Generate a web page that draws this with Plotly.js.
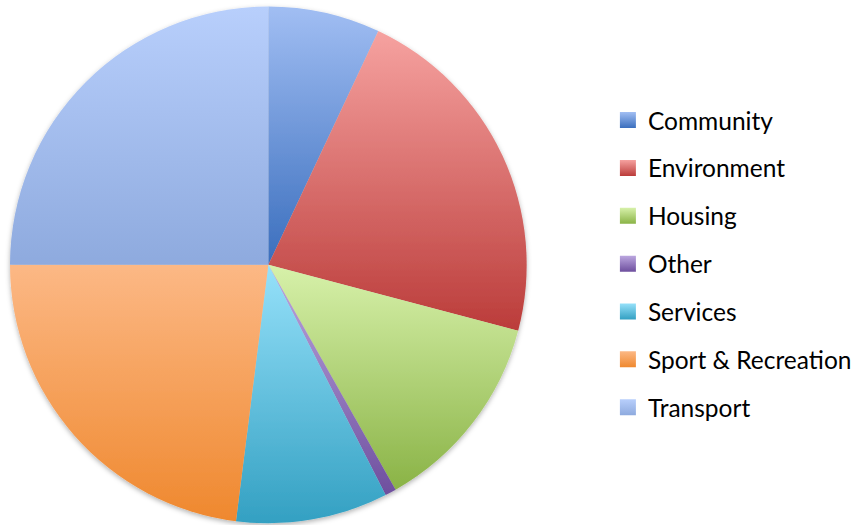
<!DOCTYPE html>
<html>
<head>
<meta charset="utf-8">
<script src="https://cdn.plot.ly/plotly-3.0.1.min.js"></script>
<style>html,body{margin:0;padding:0;background:#fff;}#chart{width:857px;height:525px;}</style>
</head>
<body>
<div id="chart"></div>
<script>
var categories = ["Community", "Environment", "Housing", "Other", "Services", "Sport & Recreation", "Transport"];
var shares = [7.0, 22.1, 12.7, 0.7, 9.5, 23.0, 25.0];
var sliceColors = ["#6e96d8", "#da716e", "#b1d378", "#8565ae", "#62bfdd", "#f6a062", "#a3bcec"];
var lightColors = ["#a1bef3", "#f6a2a0", "#d7f1aa", "#bca7e0", "#96e1fa", "#fcb885", "#b8cffc"];
var darkColors = ["#3a6ebd", "#bb3c3a", "#8ab346", "#6e4f9e", "#33a0c2", "#ef882e", "#8eaade"];

var traces = [{
  type: "pie",
  labels: categories,
  values: shares,
  sort: false,
  direction: "clockwise",
  rotation: 0,
  textinfo: "none",
  hoverinfo: "label+percent",
  marker: {colors: sliceColors, line: {width: 0}},
  domain: {x: [0.0117, 0.616], y: [0.002, 0.989]},
  showlegend: false
}];

categories.forEach(function (c, i) {
  traces.push({
    type: "scatter",
    mode: "markers",
    x: [null], y: [null],
    name: c,
    legendgroup: "g" + i,
    marker: {symbol: "square", size: 16, color: sliceColors[i]},
    hoverinfo: "skip"
  });
});

var layout = {
  width: 857, height: 525,
  margin: {l: 0, r: 0, t: 0, b: 0},
  paper_bgcolor: "#ffffff",
  plot_bgcolor: "rgba(0,0,0,0)",
  xaxis: {visible: false, domain: [0.7, 0.71]},
  yaxis: {visible: false, domain: [0.5, 0.51]},
  showlegend: true,
  legend: {
    x: 0.711, y: 0.814, xanchor: "left", yanchor: "top",
    font: {family: "Lato, 'Open Sans', sans-serif", size: 24.5, color: "#000"},
    tracegroupgap: 13,
    traceorder: "grouped",
    bgcolor: "rgba(0,0,0,0)"
  }
};

function applyGradients(gd) {
  var svgNS = "http://www.w3.org/2000/svg";
  var svg = gd.querySelector(".main-svg");
  var defs = svg.querySelector("defs") || svg.insertBefore(document.createElementNS(svgNS, "defs"), svg.firstChild);
  categories.forEach(function (c, i) {
    var lg = document.createElementNS(svgNS, "linearGradient");
    lg.setAttribute("id", "sliceGrad" + i);
    lg.setAttribute("x1", "0"); lg.setAttribute("y1", "0");
    lg.setAttribute("x2", "0"); lg.setAttribute("y2", "1");
    [[0, lightColors[i]], [1, darkColors[i]]].forEach(function (s) {
      var st = document.createElementNS(svgNS, "stop");
      st.setAttribute("offset", s[0]);
      st.setAttribute("stop-color", s[1]);
      lg.appendChild(st);
    });
    defs.appendChild(lg);
  });
  var flt = document.createElementNS(svgNS, "filter");
  flt.setAttribute("id", "pieShadow");
  flt.setAttribute("x", "-10%"); flt.setAttribute("y", "-10%");
  flt.setAttribute("width", "120%"); flt.setAttribute("height", "120%");
  var ds = document.createElementNS(svgNS, "feDropShadow");
  ds.setAttribute("dx", "0"); ds.setAttribute("dy", "2");
  ds.setAttribute("stdDeviation", "2.5");
  ds.setAttribute("flood-color", "#000");
  ds.setAttribute("flood-opacity", "0.3");
  flt.appendChild(ds);
  defs.appendChild(flt);

  var slices = gd.querySelectorAll("g.slice path.surface");
  slices.forEach(function (p, i) {
    p.style.fill = "url(#sliceGrad" + i + ")";
  });
  var pieGroup = gd.querySelector("g.pielayer g.trace");
  if (pieGroup) pieGroup.setAttribute("filter", "url(#pieShadow)");
  var pts = gd.querySelectorAll("g.legend g.traces path.scatterpts");
  pts.forEach(function (p, i) {
    p.style.fill = "url(#sliceGrad" + i + ")";
  });
}

Plotly.newPlot("chart", traces, layout, {displayModeBar: false, staticPlot: true}).then(applyGradients);
</script>
</body>
</html>
